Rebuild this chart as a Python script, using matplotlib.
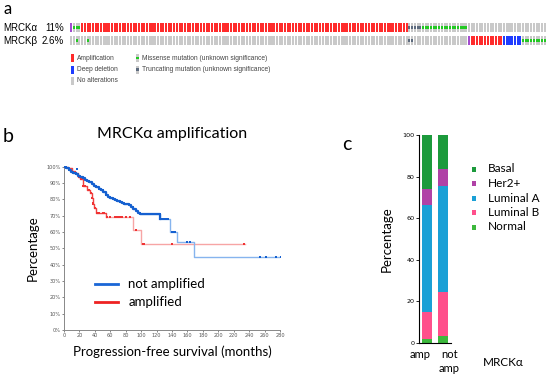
import numpy as np
import matplotlib
matplotlib.use("Agg")
import matplotlib.pyplot as plt
from matplotlib.patches import Rectangle
from matplotlib.lines import Line2D

FONT = ['Lato', 'DejaVu Sans']
ARIAL = ['Liberation Sans', 'DejaVu Sans']

# ---- panel a: oncoprint segments (kind, number of samples), left to right
row_alpha = [("multi", 1), ("missense", 3), ("amp", 121), ("trunc", 5),
             ("missense", 17), ("none", 29)]
row_beta = [("none", 2), ("missense", 1), ("none", 3), ("missense", 1),
            ("none", 118), ("trunc", 2), ("none", 20), ("multi", 1),
            ("amp", 12), ("del", 7), ("missense", 9)]
gene_names = ["MRCK\u03b1", "MRCK\u03b2"]
gene_pcts = ["11%", "2.6%"]

# ---- panel b: Kaplan-Meier steps (months, percent) and censor times
blue_t = [0, 3, 6, 9, 12, 15, 18, 21, 24, 27, 30, 33, 36, 39, 42, 45, 48, 51,
          54, 57, 60, 63, 66, 69, 72, 75, 78, 81, 84, 87, 90, 93, 96, 99,
          125, 138, 146, 168]
blue_s = [100, 99, 98, 97, 96, 95.5, 94.5, 93.5, 93, 92, 91.3, 90.5, 89.5,
          88.5, 87.5, 86.5, 85.5, 84.5, 83, 81.5, 80.8, 80, 79.5, 79, 78.3,
          77.8, 77.3, 77, 76.3, 75.5, 74, 73, 72, 71, 68, 60, 54, 45]
blue_end = 282
blue_cens = [2, 4, 5, 7, 8, 10, 11, 13, 14, 16, 17, 19, 20, 22, 23, 25, 26,
             28, 29, 31, 32, 34, 35, 37, 38, 40, 41, 43, 44, 46, 47, 49, 50,
             52, 53, 55, 56, 58, 59, 61, 62, 64, 65, 67, 68, 70, 71, 73, 74,
             76, 77, 79, 80, 82, 83, 85, 86, 88, 89, 91, 92, 94, 95, 97, 98,
             100, 102, 104, 106, 108, 110, 112, 114, 116, 118, 120, 124, 127,
             129, 131, 133, 135, 140, 142, 144, 160, 163, 254, 262, 275, 281]
blue_odd = (17, 98.5)

red_t = [0, 5, 10, 14, 18, 21, 24, 30, 34, 36, 37, 38, 39, 42, 54, 90, 100]
red_s = [100, 99, 97.5, 96, 94, 92.5, 88.5, 86, 84, 81, 78, 77, 75, 72, 69,
         61, 52.5]
red_end = 234
red_cens = [15, 20, 22, 25, 27, 32, 35, 36, 37, 38, 40, 43, 45, 50, 52, 56,
            60, 66, 68, 70, 72, 75, 80, 85, 93, 102, 104, 140, 233]

# ---- panel c: subtype composition (%)
groups = ["amp", "not\namp"]
subtypes = ["Normal", "Luminal B", "Luminal A", "Her2+", "Basal"]
amp_pct = [2, 13, 51.5, 7.5, 26]
notamp_pct = [3.5, 21, 51, 8, 16.5]

onco_colors = {"amp": "#ff2b2b", "del": "#1f3cff", "none": "#c9c9c9",
               "missense": "#22c922", "trunc": "#5d6b7e", "multi": "#a24bd0"}
sub_colors = {"Basal": "#1c9a3c", "Her2+": "#b041a6", "Luminal A": "#1aa0d6",
              "Luminal B": "#ff4f8b", "Normal": "#3cb83c"}

fig = plt.figure(figsize=(5.5, 3.82), dpi=100)
W, H = 550.0, 382.0


def px_axes(x0, y0, x1, y1):
    return fig.add_axes([x0 / W, 1 - y1 / H, (x1 - x0) / W, (y1 - y0) / H])


# overlay in pixel units for labels and hand-placed legends
axl = px_axes(0, 0, W, H)
axl.set_xlim(0, W)
axl.set_ylim(H, 0)
axl.axis("off")

# ================= panel a =================
axa = px_axes(70, 20.5, 546, 47.5)
n_samples = sum(n for _, n in row_alpha)
axa.set_xlim(0, n_samples)
axa.set_ylim(1.5, -0.5)
axa.axis("off")
for r, row in enumerate([row_alpha, row_beta]):
    i = 0
    for kind, n in row:
        for k in range(n):
            x = i + 0.12
            if kind in ("amp", "del", "multi", "none"):
                axa.bar(x, 0.68, bottom=r - 0.34, width=0.76, align="edge",
                        color=onco_colors[kind], linewidth=0)
            else:
                axa.bar(x, 0.68, bottom=r - 0.34, width=0.76, align="edge",
                        color=onco_colors["none"], linewidth=0)
                axa.bar(x, 0.24, bottom=r - 0.12, width=0.76, align="edge",
                        color=onco_colors[kind], linewidth=0)
            i += 1

for r, (g, p) in enumerate(zip(gene_names, gene_pcts)):
    y = 28 + r * 13.5
    axl.text(3, y, g, fontsize=7, family=ARIAL, va="center")
    axl.text(64, y, p, fontsize=7, family=ARIAL, va="center", ha="right")

leg_a = [(71, 58, "amp", "Amplification"), (71, 69.5, "del", "Deep deletion"),
         (71, 81, "none", "No alterations"),
         (136, 58, "missense", "Missense mutation (unknown significance)"),
         (136, 69.5, "trunc", "Truncating mutation (unknown significance)")]
for x, y, kind, lab in leg_a:
    if kind in ("missense", "trunc"):
        axl.add_patch(Rectangle((x, y - 4), 3, 8, color=onco_colors["none"], lw=0))
        axl.add_patch(Rectangle((x, y - 1.3), 3, 2.6, color=onco_colors[kind], lw=0))
    else:
        axl.add_patch(Rectangle((x, y - 4), 3, 8, color=onco_colors[kind], lw=0))
    axl.text(x + 6, y, lab, fontsize=4.8, family=ARIAL, va="center",
             color="#444444")

axl.text(3, 9, "a", fontsize=12, family=FONT, va="center")
axl.text(3, 137, "b", fontsize=14, family=FONT, va="center")
axl.text(342, 145, "c", fontsize=14, family=FONT, va="center")

# ================= panel b =================
axb = px_axes(64, 166, 280, 330)
axb.set_xlim(0, 280)
axb.set_ylim(0, 100.5)


def km_xy(t, s, end):
    return list(t) + [end], list(s) + [s[-1]]


def km_at(t, s, x):
    idx = np.searchsorted(t, x, side="right") - 1
    return np.array(s)[idx]


bx, by = km_xy(blue_t, blue_s, blue_end)
rx, ry = km_xy(red_t, red_s, red_end)
axb.step(rx, ry, where="post", color="#f7a5a5", lw=1.0, zorder=2)
axb.step(bx, by, where="post", color="#86b4ee", lw=1.0, zorder=3)
axb.plot(red_cens, km_at(red_t, red_s, red_cens), ls="none", marker="s",
         ms=1.8, color="#f03232", mew=0, zorder=4)
axb.plot(blue_cens, km_at(blue_t, blue_s, blue_cens), ls="none", marker="s",
         ms=2.1, color="#1560d0", mew=0, zorder=5)
axb.plot([blue_odd[0]], [blue_odd[1]], ls="none", marker="s", ms=1.8,
         color="#1560d0", mew=0, zorder=5)
# the early declining segment is drawn thick by the dense censoring
axb.step(bx[:35], by[:35], where="post", color="#1560d0", lw=1.6, zorder=4)
axb.step(rx[:15], ry[:15], where="post", color="#f04040", lw=0.9, zorder=3)

axb.set_xticks(np.arange(0, 281, 20))
axb.set_yticks(np.arange(0, 101, 10))
axb.set_yticklabels([f"{v}%" for v in range(0, 101, 10)])
axb.tick_params(labelsize=3.6, length=1.5, width=0.5, pad=1,
                colors="#555555")
for s in ["top", "right"]:
    axb.spines[s].set_visible(False)
for s in ["left", "bottom"]:
    axb.spines[s].set_color("#888888")
    axb.spines[s].set_linewidth(0.7)
axb.set_title("MRCK\u03b1 amplification", fontsize=11.5, family=FONT, pad=20)
axb.set_xlabel("Progression-free survival (months)", fontsize=9.5,
               family=FONT, labelpad=5)
axb.set_ylabel("Percentage", fontsize=9.5, family=FONT, labelpad=5)
handles = [Line2D([], [], color="#1a66d6", lw=2),
           Line2D([], [], color="#ee2222", lw=2)]
axb.legend(handles, ["not amplified", "amplified"], loc="lower left",
           bbox_to_anchor=(0.09, 0.06), frameon=False, prop={"family": FONT,
           "size": 9.5}, handlelength=1.7, handletextpad=0.8,
           labelspacing=0.45)

# ================= panel c =================
axc = px_axes(419, 135, 451, 343)
x = np.arange(len(groups))
bottom = np.zeros(len(groups))
for k, st in enumerate(subtypes):
    vals = np.array([amp_pct[k], notamp_pct[k]])
    axc.bar(x, vals, bottom=bottom, width=0.62, color=sub_colors[st],
            linewidth=0)
    bottom += vals
axc.set_xlim(-0.5, 1.5)
axc.set_ylim(0, 100)
axc.set_yticks(np.arange(0, 101, 20))
axc.set_xticks([])
axc.tick_params(axis="y", labelsize=4.6, length=2, width=0.6, pad=1)
for s in ["top", "right"]:
    axc.spines[s].set_visible(False)
axc.set_ylabel("Percentage", fontsize=9.5, family=FONT, labelpad=7)
# group labels sit slightly left / right of their bars, as in the figure
for gx, g in zip([420, 449.5], groups):
    axl.text(gx, 349, g, fontsize=8, family=FONT, ha="center", va="top",
             linespacing=1.3)
axl.text(503, 362, "MRCK\u03b1", fontsize=8.5, family=FONT, ha="center",
         va="center")

leg_c = ["Basal", "Her2+", "Luminal A", "Luminal B", "Normal"]
for k, st in enumerate(leg_c):
    y = 169 + k * 14.5
    axl.add_patch(Rectangle((471.5, y - 2.5), 4, 5, color=sub_colors[st], lw=0))
    axl.text(488, y, st, fontsize=8.5, family=FONT, va="center")

fig.savefig("out.png", dpi=100)
